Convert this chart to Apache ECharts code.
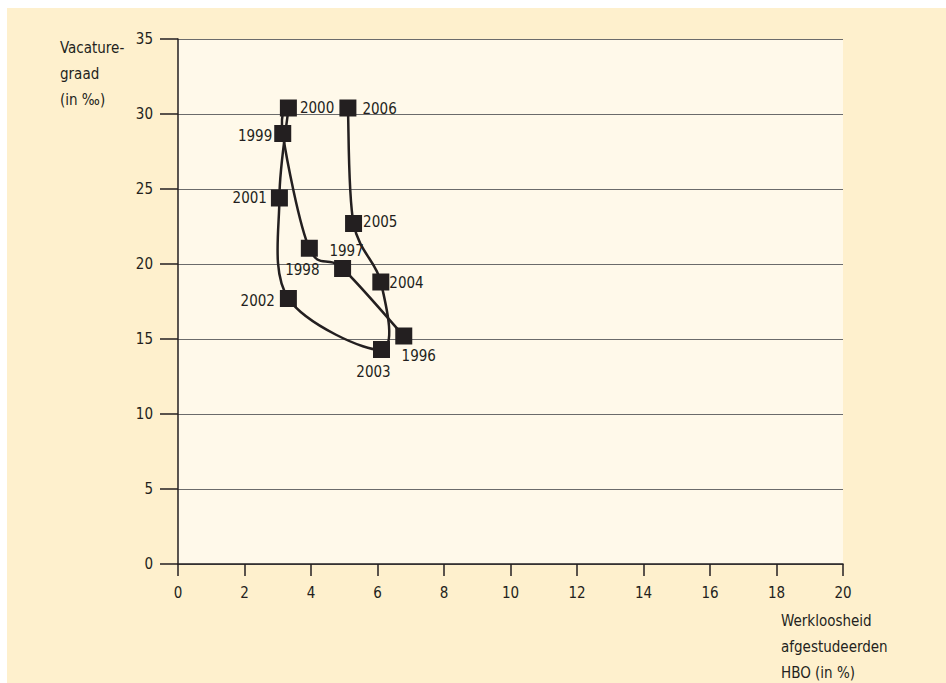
<!DOCTYPE html>
<html>
<head>
<meta charset="utf-8">
<script src="https://cdn.jsdelivr.net/npm/echarts@6/dist/echarts.min.js"></script>
<style>
html,body{margin:0;padding:0;background:#ffffff;}
#chart{width:946px;height:683px;}
</style>
</head>
<body>
<div id="chart"></div>
<script>
// Data
var years = ['1996','1997','1998','1999','2000','2001','2002','2003','2004','2005','2006'];
var werkloosheid = [6.79, 4.95, 3.95, 3.15, 3.32, 3.05, 3.32, 6.12, 6.10, 5.28, 5.11];
var vacaturegraad = [15.2, 19.7, 21.05, 28.7, 30.4, 24.4, 17.7, 14.3, 18.8, 22.7, 30.4];
var xTicks = [0, 2, 4, 6, 8, 10, 12, 14, 16, 18, 20];
var yTicks = [0, 5, 10, 15, 20, 25, 30, 35];
var yAxisTitle = 'Vacature-\ngraad\n(in ‰)';
var xAxisTitle = 'Werkloosheid\nafgestudeerden\nHBO (in %)';

var FONT = '"DejaVu Sans Condensed", "Liberation Sans Narrow", sans-serif';
var FS = 15;
var TXT = '#231f20';
var TENSION = 1 / 6;

// label placement per year (style only)
var labelPlacement = {
  '1996': {position: 'bottom', distance: 4, offset: [15, 0]},
  '1997': {position: 'top', distance: 2, offset: [4, 0]},
  '1998': {position: 'bottom', distance: 6, offset: [-7, 0]},
  '1999': {position: 'left', distance: 2, offset: [0, 2]},
  '2000': {position: 'right', distance: 3, offset: [0, 0]},
  '2001': {position: 'left', distance: 4, offset: [0, 0]},
  '2002': {position: 'left', distance: 5, offset: [0, 2]},
  '2003': {position: 'bottom', distance: 6, offset: [-8, 0]},
  '2004': {position: 'right', distance: 0, offset: [0, 1]},
  '2005': {position: 'right', distance: 1, offset: [0, -2]},
  '2006': {position: 'right', distance: 6, offset: [0, 1]}
};

var pointData = years.map(function (y, i) {
  var p = labelPlacement[y];
  return {
    name: y,
    value: [werkloosheid[i], vacaturegraad[i]],
    label: {show: true, formatter: y, position: p.position, distance: p.distance, offset: p.offset}
  };
});

// one item per segment between consecutive years
var segmentData = [];
for (var i = 0; i < years.length - 1; i++) {
  segmentData.push([werkloosheid[i], vacaturegraad[i], werkloosheid[i + 1], vacaturegraad[i + 1], i]);
}

function renderSegment(params, api) {
  var i = api.value(4);
  var n = years.length;
  function pt(j) {
    j = Math.max(0, Math.min(n - 1, j));
    return api.coord([werkloosheid[j], vacaturegraad[j]]);
  }
  var p0 = pt(i - 1), p1 = pt(i), p2 = pt(i + 1), p3 = pt(i + 2);
  return {
    type: 'bezierCurve',
    shape: {
      x1: p1[0], y1: p1[1], x2: p2[0], y2: p2[1],
      cpx1: p1[0] + (p2[0] - p0[0]) * TENSION,
      cpy1: p1[1] + (p2[1] - p0[1]) * TENSION,
      cpx2: p2[0] - (p3[0] - p1[0]) * TENSION,
      cpy2: p2[1] - (p3[1] - p1[1]) * TENSION
    },
    style: {stroke: TXT, lineWidth: 2.5, fill: null}
  };
}

var chart = echarts.init(document.getElementById('chart'), null, {renderer: 'svg'});
chart.setOption({
  animation: false,
  backgroundColor: '#ffffff',
  graphic: [
    {type: 'rect', z: -10, shape: {x: 7, y: 8, width: 939, height: 675}, style: {fill: '#fef0cd'}},
    {type: 'text', left: 60, top: 35, style: {text: yAxisTitle, font: FS + 'px ' + FONT, fill: TXT, lineHeight: 26}},
    {type: 'text', left: 781, top: 608, style: {text: xAxisTitle, font: FS + 'px ' + FONT, fill: TXT, lineHeight: 26}}
  ],
  grid: {
    left: 178, right: 103, top: 39, bottom: 119,
    show: true, backgroundColor: '#fff9ea', borderWidth: 0
  },
  xAxis: {
    type: 'value', min: xTicks[0], max: xTicks[xTicks.length - 1], interval: 2,
    axisLine: {show: true, onZero: false, lineStyle: {color: TXT, width: 1.5}},
    axisTick: {show: true, length: 12, lineStyle: {color: TXT, width: 1.5}},
    axisLabel: {color: TXT, fontFamily: FONT, fontSize: FS, margin: 21},
    splitLine: {show: false}
  },
  yAxis: {
    type: 'value', min: yTicks[0], max: yTicks[yTicks.length - 1], interval: 5,
    axisLine: {show: true, onZero: false, lineStyle: {color: TXT, width: 1.5}},
    axisTick: {show: true, length: 18, lineStyle: {color: TXT, width: 1.5}},
    axisLabel: {color: TXT, fontFamily: FONT, fontSize: FS, margin: 25},
    splitLine: {show: true, lineStyle: {color: '#6b6b6b', width: 1.2}}
  },
  series: [{
    type: 'custom',
    renderItem: renderSegment,
    data: segmentData,
    encode: {x: [0, 2], y: [1, 3]},
    clip: false,
    z: 4
  }, {
    type: 'scatter',
    data: pointData,
    symbol: 'rect',
    symbolSize: 17,
    itemStyle: {color: TXT, opacity: 1},
    label: {color: TXT, fontFamily: FONT, fontSize: FS},
    z: 5
  }]
});
</script>
</body>
</html>
